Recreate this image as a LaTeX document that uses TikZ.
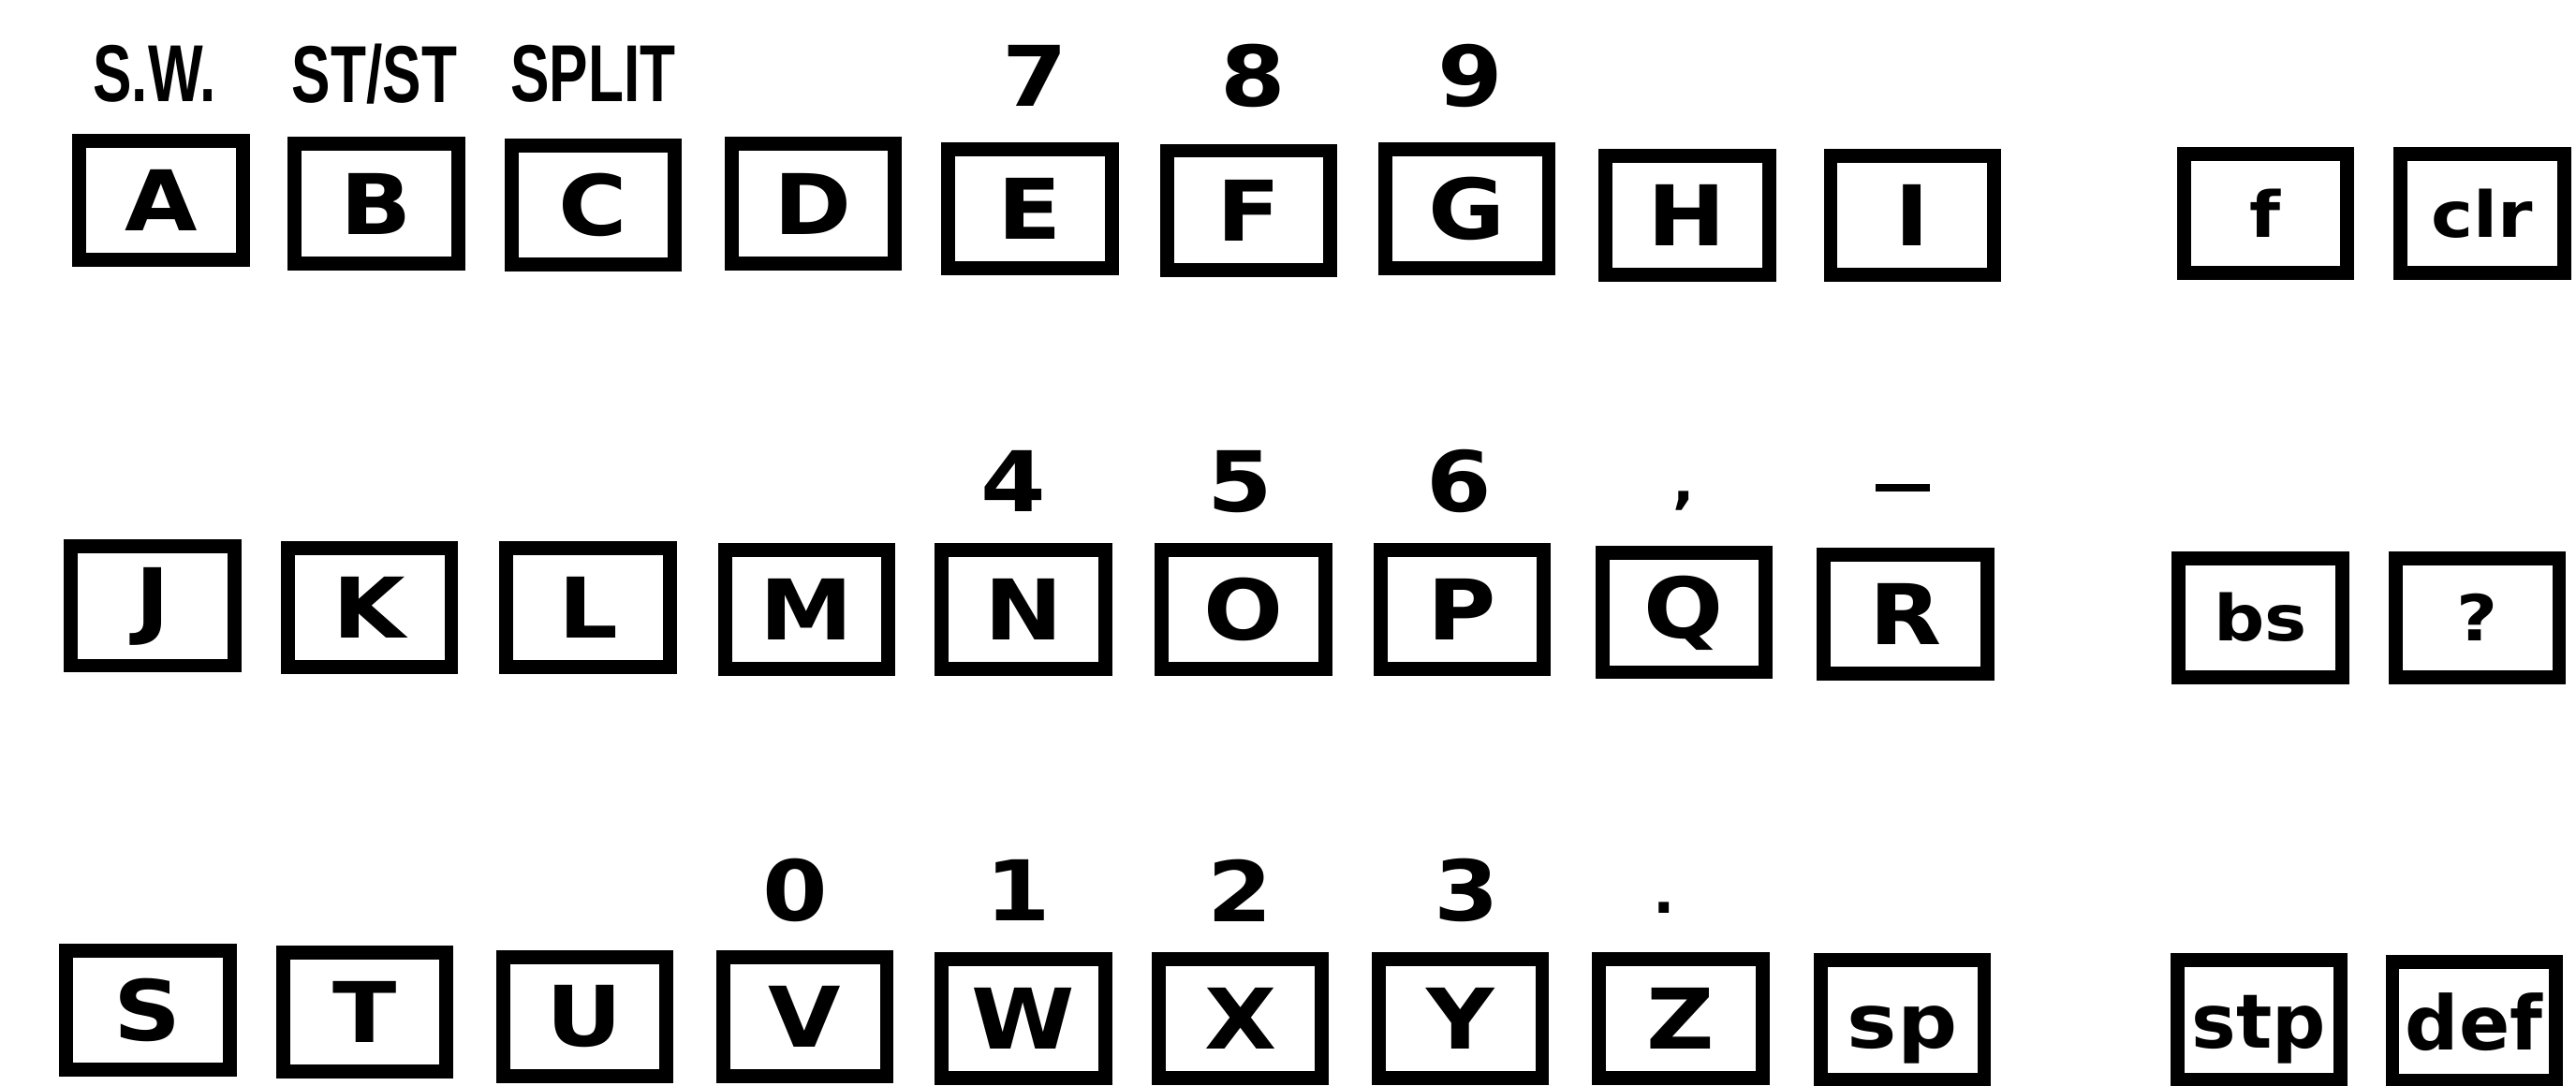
\documentclass[tikz,border=0pt]{standalone}
\usepackage{fontspec}
\usepackage{graphicx}
\newfontfamily\kf{DejaVu Sans}
\newfontfamily\lf{Liberation Sans}
\newcommand{\wk}[1]{\scalebox{1.12}[1]{#1}}
\newcommand{\nk}[1]{\scalebox{0.72}[1]{#1}}
\tikzset{
  key/.style={draw=black, line width=0.17cm, minimum width=1.99cm, minimum height=1.45cm, inner sep=0pt, font=\kf\bfseries\fontsize{29}{29}\selectfont},
  keysmall/.style={key, font=\kf\bfseries\fontsize{22}{22}\selectfont},
  keymid/.style={key, font=\kf\bfseries\fontsize{26}{26}\selectfont, text height=0.7cm, text depth=0.02cm},
  toplab/.style={inner sep=0pt, font=\lf\bfseries\fontsize{28}{28}\selectfont},
  numlab/.style={inner sep=0pt, font=\kf\bfseries\fontsize{29}{29}\selectfont},
  punct/.style={inner sep=0pt, font=\kf\bfseries\fontsize{20}{20}\selectfont}
}
\begin{document}
\begin{tikzpicture}[x=0.02cm, y=-0.02cm]
\useasboundingbox[fill=white] (0,0) rectangle (1568,661);
% row 1
\node[key] (A) at (98,122) {\wk{A}};
\node[key] (B) at (229,124) {\wk{B}};
\node[key] (C) at (361,125) {\wk{C}};
\node[key] (D) at (495,124) {\wk{D}};
\node[key] (E) at (627,127) {\wk{E}};
\node[key] (F) at (760,128) {\wk{F}};
\node[key] (G) at (893,127) {\wk{G}};
\node[key] (H) at (1027,131) {\wk{H}};
\node[key] (I) at (1164,131) {\wk{I}};
\node[keysmall] (kf) at (1379,130) {\wk{f}};
\node[keysmall] (clr) at (1511,130) {\wk{clr}};
% row 2
\node[key] (J) at (93,369) {\wk{J}};
\node[key] (K) at (225,370) {\wk{K}};
\node[key] (L) at (358,370) {\wk{L}};
\node[key] (M) at (491,371) {\wk{M}};
\node[key] (N) at (623,371) {\wk{N}};
\node[key] (O) at (757,371) {\wk{O}};
\node[key] (P) at (890,371) {\wk{P}};
\node[key] (Q) at (1025,373) {\wk{Q}};
\node[key] (R) at (1160,374) {\wk{R}};
\node[keysmall] (bs) at (1376,376) {\wk{bs}};
\node[keysmall] (qm) at (1508,376) {\wk{?}};
% row 3
\node[key] (S) at (90,615) {\wk{S}};
\node[key] (T) at (222,616) {\wk{T}};
\node[key] (U) at (356,619) {\wk{U}};
\node[key] (V) at (490,619) {\wk{V}};
\node[key] (W) at (623,620) {\wk{W}};
\node[key] (X) at (755,620) {\wk{X}};
\node[key] (Y) at (889,620) {\wk{Y}};
\node[key] (Z) at (1023,620) {\wk{Z}};
\node[keymid] (sp) at (1158,621) {\wk{sp}};
\node[keymid] (stp) at (1375,621) {stp};
\node[keymid] (def) at (1506,622) {def};
% labels row 1
\node[toplab] (lsw) at (94,45) {\nk{S.W.}};
\node[toplab] (lst) at (228,45) {\nk{ST/ST}};
\node[toplab] (lsp) at (361,45) {\nk{SPLIT}};
\node[numlab] (l7) at (630,46) {\wk{7}};
\node[numlab] (l8) at (763,46) {\wk{8}};
\node[numlab] (l9) at (895,46) {\wk{9}};
% labels row 2
\node[numlab] (l4) at (617,293) {\wk{4}};
\node[numlab] (l5) at (755,293) {\wk{5}};
\node[numlab] (l6) at (888,293) {\wk{6}};
\node[punct, anchor=base] (lcomma) at (1025,306) {,};
\node[inner sep=0pt, minimum width=0.66cm, minimum height=0.09cm, fill=black] (ldash) at (1158,297) {};
% labels row 3
\node[numlab] (l0) at (484,542) {\wk{0}};
\node[numlab] (l1) at (620,542) {\wk{1}};
\node[numlab] (l2) at (755,542) {\wk{2}};
\node[numlab] (l3) at (893,542) {\wk{3}};
\node[punct, anchor=base] (ldot) at (1013,556) {.};
\end{tikzpicture}
\end{document}
